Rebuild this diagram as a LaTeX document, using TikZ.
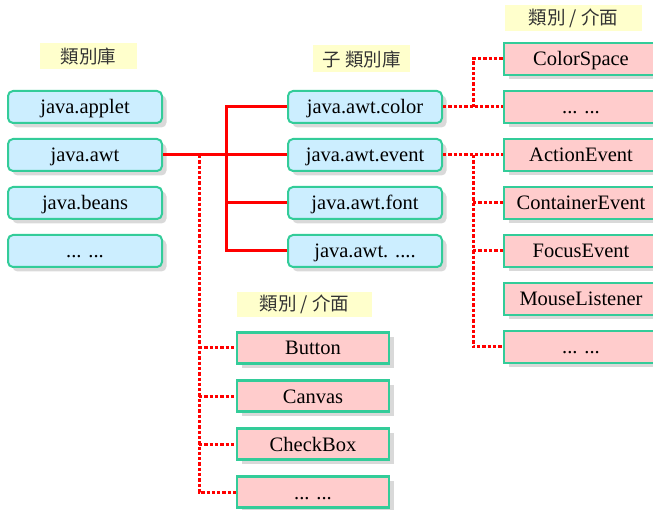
\documentclass[tikz,border=0pt]{standalone}
\usepackage{fontspec}
\setmainfont{Liberation Serif}
\newfontfamily\cjk{Noto Sans CJK TC}
\usetikzlibrary{shadows}
\definecolor{boxline}{HTML}{33CC99}
\definecolor{bluefill}{HTML}{CCEEFF}
\definecolor{pinkfill}{HTML}{FFCCCC}
\definecolor{labfill}{HTML}{FFFFCC}
\definecolor{shadowgray}{HTML}{D9D9D9}
\tikzset{
  base/.style={draw=boxline, line width=2pt, minimum width=154pt, minimum height=32pt,
    inner sep=0pt, text height=16pt, text depth=2pt, font=\fontsize{20.5}{24}\selectfont,
    drop shadow={shadow xshift=4.5pt, shadow yshift=-4.5pt, fill=shadowgray, opacity=1}},
  pkg/.style={base, fill=bluefill, rounded corners=5pt},
  cls/.style={base, fill=pinkfill, line width=2.4pt},
  lab/.style={fill=labfill, inner sep=0pt, font=\cjk\fontsize{18.5}{20}\selectfont, text=black!80},
  solidred/.style={draw=red, line width=3pt},
  dotred/.style={draw=red, line width=3pt, dash pattern=on 3.3pt off 2pt}
}
\begin{document}
\begin{tikzpicture}[x=1pt, y=-1pt]
\useasboundingbox (0,0) rectangle (653,510);
\clip (0,0) rectangle (653,510);

% labels
\node[lab, minimum width=97pt, minimum height=26pt] (l1) at (88.5,56) {類別庫};
\node[lab, minimum width=97pt, minimum height=27pt] (l2) at (361.5,59) {子 類別庫};
\node[lab, minimum width=137pt, minimum height=26pt] (l3) at (573.5,18) {類別 / 介面};
\node[lab, minimum width=135pt, minimum height=25pt] (l4) at (304.5,304.5) {類別 / 介面};

% connector junction coordinates
\coordinate (sj) at (226,0);
\coordinate (dj) at (199,0);
\coordinate (rj) at (473,0);

% left packages
\node[pkg] (applet) at (85,107) {java.applet};
\node[pkg] (awt) at (85,155) {java.awt};
\node[pkg] (beans) at (85,203) {java.beans};
\node[pkg] (ldots) at (85,251) {... ...};

% sub packages
\node[pkg] (color) at (365,107) {java.awt.color};
\node[pkg] (event) at (365,155) {java.awt.event};
\node[pkg] (font) at (365,203) {java.awt.font};
\node[pkg] (mdots) at (365,251) {java.awt. ....};

% right classes
\node[cls] (cspace) at (581,59) {ColorSpace};
\node[cls] (cdots) at (581,107) {... ...};
\node[cls] (action) at (581,155) {ActionEvent};
\node[cls] (container) at (581,203) {ContainerEvent};
\node[cls] (focus) at (581,251) {FocusEvent};
\node[cls] (mouse) at (581,299) {MouseListener};
\node[cls] (edots) at (581,347) {... ...};

% bottom classes
\node[cls, minimum width=152pt, minimum height=31pt] (button) at (313,348) {Button};
\node[cls, minimum width=152pt, minimum height=31pt] (canvas) at (313,396) {Canvas};
\node[cls, minimum width=152pt, minimum height=31pt] (check) at (313,444) {CheckBox};
\node[cls, minimum width=152pt, minimum height=31pt] (bdots) at (313,492) {... ...};

% solid red connectors
\draw[solidred] (awt.east) -- (awt.east -| sj);
\draw[solidred] (color.west) -- (color.west -| sj) -- (mdots.west -| sj) -- (mdots.west);
\draw[solidred] (event.west) -- (event.west -| sj);
\draw[solidred] (font.west) -- (font.west -| sj);

% dotted from java.awt
\draw[dotred] (awt.east -| dj) -- (bdots.west -| dj) -- (bdots.west);
\draw[dotred] (button.west -| dj) -- (button.west);
\draw[dotred] (canvas.west -| dj) -- (canvas.west);
\draw[dotred] (check.west -| dj) -- (check.west);

% dotted from java.awt.color
\draw[dotred] (color.east) -- (cdots.west);
\draw[dotred] (color.east -| rj) -- (cspace.west -| rj) -- (cspace.west);

% dotted from java.awt.event
\draw[dotred] (event.east) -- (action.west);
\draw[dotred] (event.east -| rj) -- (edots.west -| rj) -- (edots.west);
\draw[dotred] (container.west -| rj) -- (container.west);
\draw[dotred] (focus.west -| rj) -- (focus.west);
\end{tikzpicture}
\end{document}
